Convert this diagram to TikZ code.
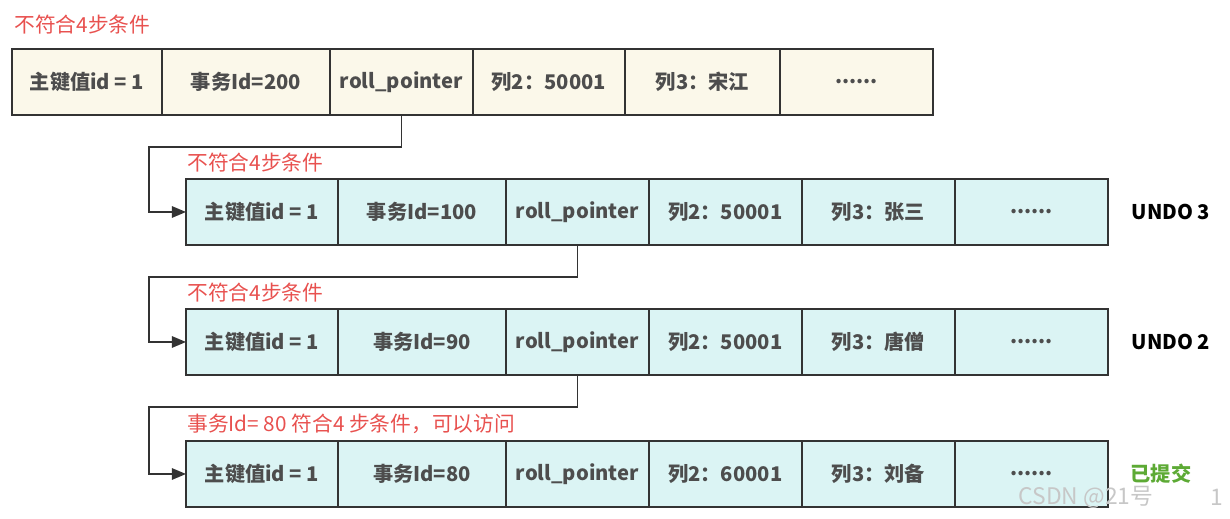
\documentclass[tikz,border=0pt]{standalone}
\usepackage{fontspec}
\setmainfont{Noto Sans CJK SC}
\usetikzlibrary{positioning,arrows.meta}
\definecolor{cellline}{HTML}{333333}
\definecolor{celltext}{HTML}{4D4D4D}
\definecolor{headfill}{HTML}{FBF8EA}
\definecolor{undofill}{HTML}{DBF4F4}
\definecolor{notered}{HTML}{E8514F}
\definecolor{okgreen}{HTML}{5DAA35}
\tikzset{
  cell/.style={draw=cellline, line width=1.1pt, minimum height=1.32cm, inner sep=0pt,
    outer sep=0pt, text=celltext, font=\fontsize{11.5}{13}\selectfont\bfseries, anchor=west},
  note/.style={text=notered, font=\fontsize{11.8}{13}\selectfont, anchor=west, inner sep=0pt},
  link/.style={draw=cellline, line width=0.9pt, -{Triangle[length=8pt,width=6.5pt]}},
  tag/.style={font=\fontsize{11.5}{13}\selectfont\bfseries}
}
\begin{document}
\begin{tikzpicture}[x=0.02cm,y=-0.02cm]
  \useasboundingbox (0,0) rectangle (1230,519);
  % current row
  \node[note] (n0) at (14,25) {不符合4步条件};
  \node[cell, fill=headfill, minimum width=3.00cm] (a1) at (12,82) {主键值id = 1};
  \node[cell, fill=headfill, minimum width=3.36cm, right=0pt of a1] (a2) {事务Id=200};
  \node[cell, fill=headfill, minimum width=2.86cm, right=0pt of a2] (a3) {roll\_pointer};
  \node[cell, fill=headfill, minimum width=3.04cm, right=0pt of a3] (a4) {列2：50001};
  \node[cell, fill=headfill, minimum width=3.10cm, right=0pt of a4] (a5) {列3：宋江};
  \node[cell, fill=headfill, minimum width=3.06cm, right=0pt of a5] (a6) {......};
  % undo 3
  \node[note] (n1) at (187,163) {不符合4步条件};
  \node[cell, fill=undofill, minimum width=3.04cm] (b1) at (186,212) {主键值id = 1};
  \node[cell, fill=undofill, minimum width=3.36cm, right=0pt of b1] (b2) {事务Id=100};
  \node[cell, fill=undofill, minimum width=2.86cm, right=0pt of b2] (b3) {roll\_pointer};
  \node[cell, fill=undofill, minimum width=3.06cm, right=0pt of b3] (b4) {列2：50001};
  \node[cell, fill=undofill, minimum width=3.06cm, right=0pt of b4] (b5) {列3：张三};
  \node[cell, fill=undofill, minimum width=3.06cm, right=0pt of b5] (b6) {......};
  \node[tag] (u3) at (1171,212) {UNDO 3};
  % undo 2
  \node[note] (n2) at (187,293) {不符合4步条件};
  \node[cell, fill=undofill, minimum width=3.04cm] (c1) at (186,342) {主键值id = 1};
  \node[cell, fill=undofill, minimum width=3.36cm, right=0pt of c1] (c2) {事务Id=90};
  \node[cell, fill=undofill, minimum width=2.86cm, right=0pt of c2] (c3) {roll\_pointer};
  \node[cell, fill=undofill, minimum width=3.06cm, right=0pt of c3] (c4) {列2：50001};
  \node[cell, fill=undofill, minimum width=3.06cm, right=0pt of c4] (c5) {列3：唐僧};
  \node[cell, fill=undofill, minimum width=3.06cm, right=0pt of c5] (c6) {......};
  \node[tag] (u2) at (1171,342) {UNDO 2};
  % undo 1
  \node[note] (n3) at (187,424) {事务Id= 80 符合4 步条件，可以访问};
  \node[cell, fill=undofill, minimum width=3.04cm] (d1) at (186,474) {主键值id = 1};
  \node[cell, fill=undofill, minimum width=3.36cm, right=0pt of d1] (d2) {事务Id=80};
  \node[cell, fill=undofill, minimum width=2.86cm, right=0pt of d2] (d3) {roll\_pointer};
  \node[cell, fill=undofill, minimum width=3.06cm, right=0pt of d3] (d4) {列2：60001};
  \node[cell, fill=undofill, minimum width=3.06cm, right=0pt of d4] (d5) {列3：刘备};
  \node[cell, fill=undofill, minimum width=3.06cm, right=0pt of d5] (d6) {......};
  \node[tag, text=okgreen] (ok) at (1161,474) {已提交};
  % pointers
  \coordinate (k1) at (149,147);
  \coordinate (k2) at (149,277);
  \coordinate (k3) at (149,407);
  \draw[link] (a3.south) |- (k1) |- (b1.west);
  \draw[link] (b3.south) |- (k2) |- (c1.west);
  \draw[link] (c3.south) |- (k3) |- (d1.west);
  % watermark
  \node[text=black!22, font=\fontsize{13}{14}\selectfont] (wm) at (1086,497) {CSDN @21号};
  \node[text=black!22, font=\fontsize{13}{14}\selectfont] (wm2) at (1217,497) {1};
\end{tikzpicture}
\end{document}
